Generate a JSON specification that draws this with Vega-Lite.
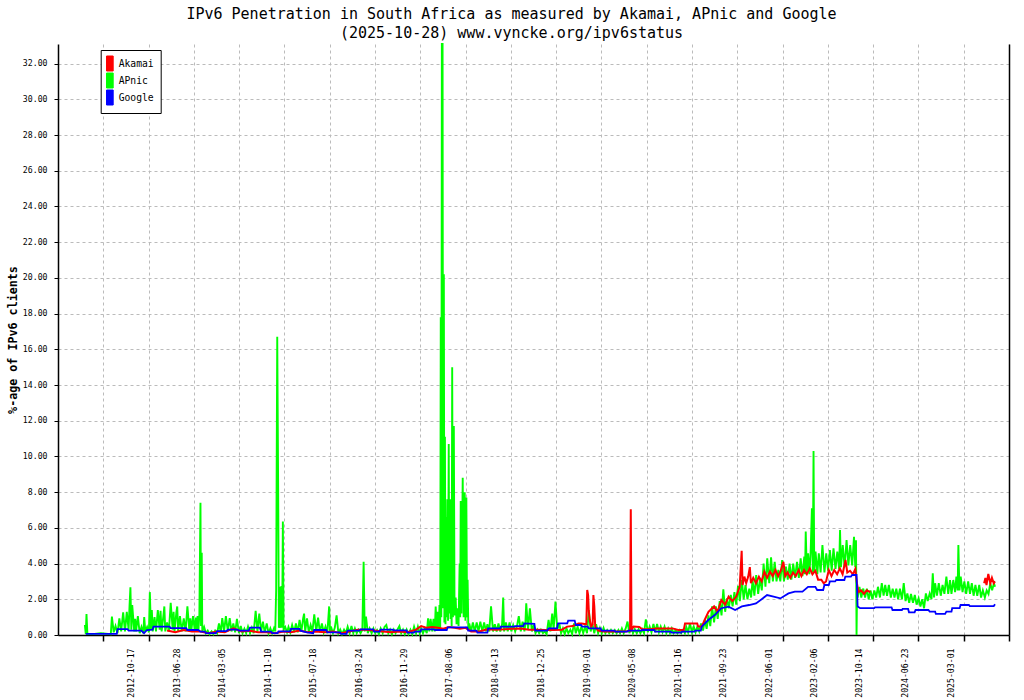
{
"$schema": "https://vega.github.io/schema/vega-lite/v6.json",
"width": 951, "height": 591,
"autosize": {"type": "none"},
"padding": {"left": 58, "top": 44, "right": 15, "bottom": 65},
"background": "white",
"title": {"text": ["IPv6 Penetration in South Africa as measured by Akamai, APnic and Google", "(2025-10-28) www.vyncke.org/ipv6status"], "frame": "group", "anchor": "middle", "dx": -22, "offset": -1, "font": "DejaVu Sans Mono", "fontSize": 15, "fontWeight": "normal", "lineHeight": 19, "color": "black"},
"datasets": {
"apnic": [
{"d":"2012-02-03","v":0.57},{"d":"2012-02-08","v":0.05},{"d":"2012-02-12","v":1.18},{"d":"2012-02-17","v":0.05},{"d":"2012-03-15","v":0.05},{"d":"2012-05-01","v":0.1},{"d":"2012-06-25","v":0.05},
{"d":"2012-07-01","v":1.03},{"d":"2012-07-11","v":0.15},{"d":"2012-07-21","v":0.5},{"d":"2012-08-01","v":0.1},{"d":"2012-08-11","v":0.93},{"d":"2012-08-21","v":0.2},{"d":"2012-09-01","v":1.27},{"d":"2012-09-11","v":0.2},{"d":"2012-09-21","v":1.3},{"d":"2012-10-01","v":0.3},{"d":"2012-10-06","v":1.6},{"d":"2012-10-11","v":2.67},{"d":"2012-10-16","v":0.3},{"d":"2012-10-21","v":1.68},{"d":"2012-11-01","v":0.2},{"d":"2012-11-06","v":0.9},{"d":"2012-11-11","v":0.2},{"d":"2012-11-21","v":1.06},{"d":"2012-12-01","v":0.1},{"d":"2012-12-11","v":0.45},{"d":"2012-12-21","v":0.1},{"d":"2012-12-26","v":1.0},
{"d":"2013-01-01","v":0.2},{"d":"2013-01-11","v":0.45},{"d":"2013-01-21","v":0.15},{"d":"2013-01-26","v":2.4},{"d":"2013-02-01","v":0.3},{"d":"2013-02-06","v":1.4},{"d":"2013-02-11","v":0.2},{"d":"2013-02-21","v":1.0},{"d":"2013-03-01","v":0.2},{"d":"2013-03-11","v":1.4},{"d":"2013-03-21","v":0.3},{"d":"2013-03-26","v":1.35},{"d":"2013-04-01","v":0.2},{"d":"2013-04-11","v":1.1},{"d":"2013-04-16","v":1.6},{"d":"2013-04-21","v":0.2},{"d":"2013-05-01","v":0.7},{"d":"2013-05-11","v":0.2},{"d":"2013-05-21","v":1.8},{"d":"2013-06-01","v":0.3},{"d":"2013-06-06","v":1.3},{"d":"2013-06-11","v":0.2},{"d":"2013-06-21","v":1.25},{"d":"2013-06-26","v":1.6},{"d":"2013-07-01","v":0.2},{"d":"2013-07-11","v":1.06},{"d":"2013-07-21","v":0.2},{"d":"2013-08-01","v":0.93},{"d":"2013-08-11","v":0.2},{"d":"2013-08-21","v":1.6},{"d":"2013-09-01","v":0.2},{"d":"2013-09-06","v":0.93},{"d":"2013-09-11","v":0.2},{"d":"2013-09-21","v":1.06},{"d":"2013-10-01","v":0.2},{"d":"2013-10-06","v":0.97},{"d":"2013-10-11","v":0.2},{"d":"2013-10-16","v":1.06},{"d":"2013-10-21","v":0.3},{"d":"2013-10-26","v":1.16},{"d":"2013-11-01","v":7.4},{"d":"2013-11-04","v":0.5},{"d":"2013-11-08","v":4.6},{"d":"2013-11-11","v":0.2},{"d":"2013-11-21","v":0.45},{"d":"2013-12-01","v":0.1},{"d":"2013-12-11","v":0.25},{"d":"2013-12-21","v":0.05},
{"d":"2014-01-01","v":0.2},{"d":"2014-01-11","v":0.05},{"d":"2014-01-21","v":0.25},{"d":"2014-02-01","v":0.1},{"d":"2014-02-11","v":0.65},{"d":"2014-02-21","v":0.15},{"d":"2014-03-01","v":0.95},{"d":"2014-03-11","v":0.2},{"d":"2014-03-21","v":1.06},{"d":"2014-04-01","v":0.2},{"d":"2014-04-11","v":0.95},{"d":"2014-04-21","v":0.2},{"d":"2014-05-01","v":0.65},{"d":"2014-05-11","v":0.15},{"d":"2014-05-21","v":0.9},{"d":"2014-06-01","v":0.1},{"d":"2014-06-11","v":0.5},{"d":"2014-06-21","v":0.1},{"d":"2014-07-01","v":0.35},{"d":"2014-07-11","v":0.1},{"d":"2014-07-21","v":0.47},{"d":"2014-08-01","v":0.1},{"d":"2014-08-11","v":0.41},{"d":"2014-08-21","v":0.1},{"d":"2014-09-01","v":1.36},{"d":"2014-09-11","v":0.2},{"d":"2014-09-21","v":1.2},{"d":"2014-10-01","v":0.2},{"d":"2014-10-11","v":0.75},{"d":"2014-10-21","v":0.15},{"d":"2014-11-01","v":0.65},{"d":"2014-11-11","v":0.1},{"d":"2014-11-21","v":0.38},{"d":"2014-12-01","v":0.1},{"d":"2014-12-11","v":0.38},{"d":"2014-12-18","v":0.2},{"d":"2014-12-23","v":2.5},{"d":"2014-12-29","v":16.7},
{"d":"2015-01-03","v":8.3},{"d":"2015-01-07","v":0.4},{"d":"2015-01-12","v":2.7},{"d":"2015-01-17","v":0.4},{"d":"2015-01-21","v":2.75},{"d":"2015-01-25","v":0.4},{"d":"2015-01-29","v":6.35},{"d":"2015-02-02","v":0.3},{"d":"2015-02-11","v":0.45},{"d":"2015-02-21","v":0.15},{"d":"2015-03-01","v":0.45},{"d":"2015-03-11","v":0.15},{"d":"2015-03-21","v":0.56},{"d":"2015-04-01","v":0.15},{"d":"2015-04-11","v":0.65},{"d":"2015-04-21","v":0.15},{"d":"2015-05-01","v":0.84},{"d":"2015-05-11","v":0.2},{"d":"2015-05-21","v":0.95},{"d":"2015-05-26","v":1.2},{"d":"2015-06-01","v":0.2},{"d":"2015-06-11","v":0.93},{"d":"2015-06-21","v":0.15},{"d":"2015-07-01","v":0.56},{"d":"2015-07-11","v":0.2},{"d":"2015-07-21","v":1.16},{"d":"2015-08-01","v":0.2},{"d":"2015-08-11","v":0.97},{"d":"2015-08-21","v":0.15},{"d":"2015-09-01","v":0.65},{"d":"2015-09-11","v":0.15},{"d":"2015-09-21","v":0.47},{"d":"2015-10-01","v":0.1},{"d":"2015-10-11","v":1.6},{"d":"2015-10-16","v":0.2},{"d":"2015-10-21","v":0.47},{"d":"2015-11-01","v":0.1},{"d":"2015-11-11","v":0.4},{"d":"2015-11-21","v":1.1},{"d":"2015-12-01","v":0.1},{"d":"2015-12-11","v":0.3},{"d":"2015-12-21","v":0.05},
{"d":"2016-01-01","v":0.3},{"d":"2016-01-11","v":0.1},{"d":"2016-01-21","v":0.47},{"d":"2016-02-01","v":0.1},{"d":"2016-02-11","v":0.5},{"d":"2016-02-21","v":0.1},{"d":"2016-03-01","v":0.37},{"d":"2016-03-11","v":0.1},{"d":"2016-03-21","v":0.3},{"d":"2016-04-01","v":0.1},{"d":"2016-04-11","v":0.3},{"d":"2016-04-18","v":4.1},{"d":"2016-04-24","v":0.2},{"d":"2016-05-01","v":1.03},{"d":"2016-05-11","v":0.1},{"d":"2016-05-21","v":0.37},{"d":"2016-06-01","v":0.1},{"d":"2016-06-11","v":0.37},{"d":"2016-06-21","v":0.1},{"d":"2016-07-01","v":0.28},{"d":"2016-07-11","v":0.05},{"d":"2016-07-21","v":0.37},{"d":"2016-08-01","v":0.1},{"d":"2016-08-11","v":0.45},{"d":"2016-08-21","v":0.56},{"d":"2016-09-01","v":0.1},{"d":"2016-09-11","v":0.3},{"d":"2016-09-21","v":0.05},{"d":"2016-10-01","v":0.3},{"d":"2016-10-11","v":0.1},{"d":"2016-10-21","v":0.3},{"d":"2016-11-01","v":0.5},{"d":"2016-11-11","v":0.1},{"d":"2016-11-21","v":0.3},{"d":"2016-12-01","v":0.05},{"d":"2016-12-11","v":0.3},{"d":"2016-12-21","v":0.05},
{"d":"2017-01-01","v":0.3},{"d":"2017-01-11","v":0.05},{"d":"2017-01-21","v":0.47},{"d":"2017-02-01","v":0.1},{"d":"2017-02-11","v":0.47},{"d":"2017-02-21","v":0.1},{"d":"2017-03-01","v":0.37},{"d":"2017-03-11","v":0.1},{"d":"2017-03-21","v":0.37},{"d":"2017-04-01","v":0.1},{"d":"2017-04-08","v":0.93},{"d":"2017-04-15","v":0.2},{"d":"2017-04-22","v":0.9},{"d":"2017-05-01","v":0.2},{"d":"2017-05-08","v":0.9},{"d":"2017-05-15","v":0.2},{"d":"2017-05-20","v":1.6},{"d":"2017-05-26","v":0.3},{"d":"2017-06-01","v":1.3},{"d":"2017-06-06","v":0.3},{"d":"2017-06-10","v":1.68},{"d":"2017-06-14","v":0.4},{"d":"2017-06-17","v":17.8},{"d":"2017-06-20","v":1.0},{"d":"2017-06-23","v":33.1},{"d":"2017-06-27","v":33.1},{"d":"2017-06-30","v":1.5},{"d":"2017-07-04","v":20.2},{"d":"2017-07-07","v":0.7},{"d":"2017-07-10","v":11.1},{"d":"2017-07-13","v":0.6},{"d":"2017-07-16","v":6.6},{"d":"2017-07-19","v":1.0},{"d":"2017-07-23","v":7.6},{"d":"2017-07-27","v":0.8},{"d":"2017-07-31","v":10.7},{"d":"2017-08-03","v":1.2},{"d":"2017-08-07","v":7.6},{"d":"2017-08-10","v":0.9},{"d":"2017-08-13","v":3.0},{"d":"2017-08-16","v":0.5},{"d":"2017-08-19","v":15.0},{"d":"2017-08-23","v":1.0},{"d":"2017-08-28","v":11.7},{"d":"2017-09-01","v":1.1},{"d":"2017-09-07","v":2.1},{"d":"2017-09-12","v":0.6},{"d":"2017-09-18","v":1.5},{"d":"2017-09-23","v":0.5},{"d":"2017-09-29","v":4.0},{"d":"2017-10-02","v":1.0},{"d":"2017-10-05","v":7.5},{"d":"2017-10-09","v":1.2},{"d":"2017-10-16","v":8.8},{"d":"2017-10-21","v":1.0},{"d":"2017-10-27","v":8.0},{"d":"2017-10-31","v":0.8},{"d":"2017-11-05","v":7.7},{"d":"2017-11-09","v":1.0},{"d":"2017-11-12","v":3.1},{"d":"2017-11-16","v":0.3},{"d":"2017-11-21","v":0.65},{"d":"2017-12-01","v":0.2},{"d":"2017-12-11","v":0.7},{"d":"2017-12-21","v":0.2},
{"d":"2018-01-01","v":0.7},{"d":"2018-01-11","v":0.2},{"d":"2018-01-21","v":0.75},{"d":"2018-02-01","v":0.2},{"d":"2018-02-11","v":0.7},{"d":"2018-02-21","v":0.2},{"d":"2018-03-01","v":0.6},{"d":"2018-03-11","v":0.2},{"d":"2018-03-21","v":1.6},{"d":"2018-04-01","v":0.2},{"d":"2018-04-11","v":0.6},{"d":"2018-04-21","v":0.2},{"d":"2018-05-01","v":0.65},{"d":"2018-05-11","v":0.2},{"d":"2018-05-21","v":0.6},{"d":"2018-05-27","v":2.1},{"d":"2018-06-01","v":0.2},{"d":"2018-06-11","v":0.7},{"d":"2018-06-21","v":0.2},{"d":"2018-07-01","v":0.7},{"d":"2018-07-11","v":0.2},{"d":"2018-07-21","v":0.56},{"d":"2018-08-01","v":0.2},{"d":"2018-08-11","v":0.5},{"d":"2018-08-21","v":1.06},{"d":"2018-09-01","v":0.2},{"d":"2018-09-11","v":0.75},{"d":"2018-09-21","v":0.2},{"d":"2018-09-26","v":0.6},{"d":"2018-10-01","v":1.77},{"d":"2018-10-11","v":0.3},{"d":"2018-10-21","v":1.5},{"d":"2018-11-01","v":0.2},{"d":"2018-11-11","v":0.56},{"d":"2018-11-21","v":0.1},{"d":"2018-12-01","v":0.3},{"d":"2018-12-11","v":0.1},{"d":"2018-12-21","v":0.3},
{"d":"2019-01-01","v":0.1},{"d":"2019-01-11","v":0.2},{"d":"2019-01-21","v":0.05},{"d":"2019-02-01","v":0.84},{"d":"2019-02-11","v":0.2},{"d":"2019-02-21","v":1.2},{"d":"2019-03-01","v":0.3},{"d":"2019-03-11","v":1.87},{"d":"2019-03-21","v":0.3},{"d":"2019-04-01","v":0.65},{"d":"2019-04-11","v":0.1},{"d":"2019-04-21","v":0.37},{"d":"2019-05-01","v":0.05},{"d":"2019-05-11","v":0.37},{"d":"2019-05-21","v":0.1},{"d":"2019-06-01","v":0.3},{"d":"2019-06-11","v":0.05},{"d":"2019-06-21","v":0.65},{"d":"2019-07-01","v":0.1},{"d":"2019-07-11","v":0.47},{"d":"2019-07-21","v":0.1},{"d":"2019-08-01","v":0.47},{"d":"2019-08-11","v":0.1},{"d":"2019-08-21","v":0.47},{"d":"2019-09-01","v":0.1},{"d":"2019-09-11","v":1.4},{"d":"2019-09-21","v":0.2},{"d":"2019-10-01","v":0.6},{"d":"2019-10-11","v":0.1},{"d":"2019-10-21","v":0.6},{"d":"2019-11-01","v":0.1},{"d":"2019-11-11","v":0.4},{"d":"2019-11-21","v":0.1},{"d":"2019-12-01","v":0.4},{"d":"2019-12-11","v":0.1},{"d":"2019-12-21","v":0.28},
{"d":"2020-01-01","v":0.1},{"d":"2020-01-11","v":0.28},{"d":"2020-01-21","v":0.1},{"d":"2020-02-01","v":0.28},{"d":"2020-02-11","v":0.1},{"d":"2020-02-21","v":0.28},{"d":"2020-03-01","v":0.1},{"d":"2020-03-11","v":0.37},{"d":"2020-03-21","v":0.1},{"d":"2020-04-01","v":0.37},{"d":"2020-04-11","v":0.75},{"d":"2020-04-21","v":0.1},{"d":"2020-05-01","v":0.47},{"d":"2020-05-11","v":0.1},{"d":"2020-05-21","v":0.32},{"d":"2020-06-01","v":0.1},{"d":"2020-06-11","v":0.32},{"d":"2020-06-21","v":0.1},{"d":"2020-07-01","v":0.32},{"d":"2020-07-11","v":0.1},{"d":"2020-07-21","v":0.88},{"d":"2020-08-01","v":0.15},{"d":"2020-08-11","v":0.47},{"d":"2020-08-21","v":0.15},{"d":"2020-09-01","v":0.62},{"d":"2020-09-11","v":0.15},{"d":"2020-09-21","v":0.62},{"d":"2020-10-01","v":0.15},{"d":"2020-10-11","v":0.47},{"d":"2020-10-21","v":0.15},{"d":"2020-11-01","v":0.47},{"d":"2020-11-11","v":0.1},{"d":"2020-11-21","v":0.37},{"d":"2020-12-01","v":0.1},{"d":"2020-12-11","v":0.37},{"d":"2020-12-21","v":0.1},
{"d":"2021-01-01","v":0.28},{"d":"2021-01-11","v":0.1},{"d":"2021-01-21","v":0.28},{"d":"2021-02-01","v":0.1},{"d":"2021-02-11","v":0.28},{"d":"2021-02-21","v":0.1},{"d":"2021-03-01","v":0.45},{"d":"2021-03-11","v":0.15},{"d":"2021-03-21","v":0.65},{"d":"2021-04-01","v":0.15},{"d":"2021-04-11","v":0.47},{"d":"2021-04-21","v":0.15},{"d":"2021-05-01","v":0.47},{"d":"2021-05-11","v":0.2},{"d":"2021-05-21","v":0.65},{"d":"2021-06-01","v":0.25},{"d":"2021-06-11","v":0.84},{"d":"2021-06-21","v":0.35},{"d":"2021-07-01","v":1.1},{"d":"2021-07-11","v":0.5},{"d":"2021-07-21","v":1.6},{"d":"2021-08-01","v":0.7},{"d":"2021-08-11","v":1.6},{"d":"2021-08-21","v":0.9},{"d":"2021-09-01","v":1.9},{"d":"2021-09-11","v":1.1},{"d":"2021-09-21","v":2.56},{"d":"2021-10-01","v":1.3},{"d":"2021-10-11","v":2.05},{"d":"2021-10-21","v":1.5},{"d":"2021-11-01","v":2.24},{"d":"2021-11-11","v":1.6},{"d":"2021-11-21","v":2.4},{"d":"2021-12-01","v":1.7},{"d":"2021-12-11","v":2.75},{"d":"2021-12-21","v":1.9},
{"d":"2022-01-01","v":3.08},{"d":"2022-01-11","v":2.0},{"d":"2022-01-21","v":2.8},{"d":"2022-02-01","v":2.0},{"d":"2022-02-11","v":2.6},{"d":"2022-02-21","v":2.1},{"d":"2022-03-01","v":3.08},{"d":"2022-03-11","v":2.2},{"d":"2022-03-21","v":3.36},{"d":"2022-04-01","v":2.3},{"d":"2022-04-11","v":3.17},{"d":"2022-04-21","v":2.5},{"d":"2022-05-01","v":4.0},{"d":"2022-05-11","v":2.7},{"d":"2022-05-21","v":4.3},{"d":"2022-06-01","v":2.9},{"d":"2022-06-11","v":4.35},{"d":"2022-06-21","v":3.0},{"d":"2022-07-01","v":4.1},{"d":"2022-07-11","v":3.0},{"d":"2022-07-21","v":3.64},{"d":"2022-08-01","v":3.0},{"d":"2022-08-11","v":4.2},{"d":"2022-08-21","v":3.0},{"d":"2022-09-01","v":3.83},{"d":"2022-09-11","v":3.1},{"d":"2022-09-21","v":4.0},{"d":"2022-10-01","v":3.1},{"d":"2022-10-11","v":4.0},{"d":"2022-10-21","v":3.2},{"d":"2022-11-01","v":4.1},{"d":"2022-11-11","v":3.2},{"d":"2022-11-21","v":4.3},{"d":"2022-12-01","v":3.3},{"d":"2022-12-11","v":4.39},{"d":"2022-12-15","v":3.4},{"d":"2022-12-19","v":5.79},{"d":"2022-12-25","v":3.5},
{"d":"2023-01-01","v":4.58},{"d":"2023-01-08","v":3.4},{"d":"2023-01-15","v":4.6},{"d":"2023-01-22","v":7.1},{"d":"2023-01-27","v":3.5},{"d":"2023-01-31","v":10.3},{"d":"2023-02-04","v":3.5},{"d":"2023-02-11","v":4.67},{"d":"2023-02-21","v":3.4},{"d":"2023-03-01","v":4.58},{"d":"2023-03-11","v":3.5},{"d":"2023-03-21","v":5.04},{"d":"2023-04-01","v":3.5},{"d":"2023-04-11","v":4.58},{"d":"2023-04-21","v":3.6},{"d":"2023-05-01","v":4.76},{"d":"2023-05-11","v":3.6},{"d":"2023-05-21","v":4.86},{"d":"2023-06-01","v":3.7},{"d":"2023-06-11","v":4.67},{"d":"2023-06-21","v":3.7},{"d":"2023-06-26","v":5.88},{"d":"2023-07-01","v":3.8},{"d":"2023-07-11","v":5.04},{"d":"2023-07-21","v":3.8},{"d":"2023-08-01","v":5.32},{"d":"2023-08-11","v":3.9},{"d":"2023-08-21","v":5.04},{"d":"2023-09-01","v":3.9},{"d":"2023-09-11","v":5.5},{"d":"2023-09-18","v":3.8},{"d":"2023-09-22","v":5.3},{"d":"2023-09-25","v":0},{"d":"2023-09-28","v":2.7},{"d":"2023-10-01","v":2.1},{"d":"2023-10-11","v":2.7},{"d":"2023-10-21","v":2.1},{"d":"2023-11-01","v":2.6},{"d":"2023-11-11","v":2.1},{"d":"2023-11-21","v":2.6},{"d":"2023-12-01","v":2.0},{"d":"2023-12-11","v":2.5},{"d":"2023-12-21","v":2.0},
{"d":"2024-01-01","v":2.5},{"d":"2024-01-11","v":2.1},{"d":"2024-01-21","v":2.7},{"d":"2024-02-01","v":2.1},{"d":"2024-02-11","v":2.9},{"d":"2024-02-21","v":2.2},{"d":"2024-03-01","v":2.8},{"d":"2024-03-11","v":2.2},{"d":"2024-03-21","v":2.8},{"d":"2024-04-01","v":2.1},{"d":"2024-04-11","v":2.6},{"d":"2024-04-21","v":2.1},{"d":"2024-05-01","v":2.6},{"d":"2024-05-11","v":2.0},{"d":"2024-05-21","v":2.6},{"d":"2024-06-01","v":2.0},{"d":"2024-06-11","v":2.9},{"d":"2024-06-21","v":1.9},{"d":"2024-07-01","v":2.33},{"d":"2024-07-11","v":1.8},{"d":"2024-07-21","v":2.3},{"d":"2024-08-01","v":1.8},{"d":"2024-08-11","v":2.24},{"d":"2024-08-21","v":1.7},{"d":"2024-09-01","v":2.05},{"d":"2024-09-11","v":1.6},{"d":"2024-09-21","v":2.0},{"d":"2024-10-01","v":1.5},{"d":"2024-10-11","v":2.33},{"d":"2024-10-21","v":1.9},{"d":"2024-11-01","v":2.33},{"d":"2024-11-11","v":2.0},{"d":"2024-11-18","v":3.45},{"d":"2024-11-25","v":2.1},{"d":"2024-12-01","v":2.9},{"d":"2024-12-11","v":2.2},{"d":"2024-12-21","v":2.9},
{"d":"2025-01-01","v":2.2},{"d":"2025-01-11","v":2.8},{"d":"2025-01-21","v":2.3},{"d":"2025-02-01","v":3.27},{"d":"2025-02-11","v":2.3},{"d":"2025-02-21","v":3.08},{"d":"2025-03-01","v":2.3},{"d":"2025-03-11","v":3.08},{"d":"2025-03-21","v":2.4},{"d":"2025-03-28","v":3.27},{"d":"2025-04-04","v":2.5},{"d":"2025-04-08","v":5.04},{"d":"2025-04-14","v":2.5},{"d":"2025-04-21","v":3.27},{"d":"2025-05-01","v":2.4},{"d":"2025-05-11","v":3.0},{"d":"2025-05-21","v":2.3},{"d":"2025-06-01","v":3.0},{"d":"2025-06-11","v":2.3},{"d":"2025-06-21","v":2.9},{"d":"2025-07-01","v":2.2},{"d":"2025-07-11","v":2.8},{"d":"2025-07-21","v":2.2},{"d":"2025-08-01","v":2.8},{"d":"2025-08-11","v":2.1},{"d":"2025-08-21","v":2.5},{"d":"2025-09-01","v":2.1},{"d":"2025-09-11","v":2.5},{"d":"2025-09-21","v":2.3},{"d":"2025-10-01","v":2.9},{"d":"2025-10-11","v":2.5},{"d":"2025-10-21","v":2.9},{"d":"2025-10-27","v":2.7}
],
"akamai": [
{"d":"2013-05-01","v":0.25,"s":1},{"d":"2013-06-15","v":0.15,"s":1},{"d":"2013-08-01","v":0.28,"s":1},{"d":"2013-09-15","v":0.2,"s":1},{"d":"2013-11-01","v":0.2,"s":1},{"d":"2013-12-15","v":0.1,"s":1},{"d":"2014-02-01","v":0.2,"s":1},{"d":"2014-03-15","v":0.15,"s":1},{"d":"2014-05-01","v":0.37,"s":1},{"d":"2014-06-15","v":0.2,"s":1},{"d":"2014-08-01","v":0.24,"s":1},{"d":"2014-09-15","v":0.15,"s":1},{"d":"2014-11-01","v":0.15,"s":1},{"d":"2014-12-15","v":0.1,"s":1},{"d":"2015-02-01","v":0.2,"s":1},{"d":"2015-03-15","v":0.15,"s":1},{"d":"2015-05-01","v":0.25,"s":1},{"d":"2015-06-15","v":0.15,"s":1},{"d":"2015-08-01","v":0.2,"s":1},{"d":"2015-09-15","v":0.15,"s":1},{"d":"2015-11-01","v":0.2,"s":1},{"d":"2015-12-15","v":0.1,"s":1},{"d":"2016-02-01","v":0.2,"s":1},{"d":"2016-03-15","v":0.3,"s":1},{"d":"2016-05-01","v":0.3,"s":1},{"d":"2016-06-15","v":0.25,"s":1},{"d":"2016-08-01","v":0.2,"s":1},{"d":"2016-09-15","v":0.15,"s":1},{"d":"2016-11-01","v":0.2,"s":1},{"d":"2016-12-15","v":0.15,"s":1},{"d":"2017-02-01","v":0.3,"s":1},{"d":"2017-03-01","v":0.5,"s":1},{"d":"2017-04-01","v":0.4,"s":1},{"d":"2017-05-01","v":0.45,"s":1},{"d":"2017-06-01","v":0.4,"s":1},{"d":"2017-07-01","v":0.35,"s":1},{"d":"2017-08-01","v":0.45,"s":1},{"d":"2017-09-01","v":0.4,"s":1},{"d":"2017-10-01","v":0.35,"s":1},{"d":"2017-11-01","v":0.4,"s":1},{"d":"2017-12-01","v":0.2,"s":1},{"d":"2018-01-15","v":0.2,"s":1},{"d":"2018-03-01","v":0.32,"s":1},{"d":"2018-04-15","v":0.3,"s":1},{"d":"2018-06-01","v":0.32,"s":1},{"d":"2018-07-15","v":0.35,"s":1},{"d":"2018-09-01","v":0.37,"s":1},{"d":"2018-10-15","v":0.3,"s":1},{"d":"2018-12-01","v":0.3,"s":1},{"d":"2019-01-15","v":0.28,"s":1},{"d":"2019-03-01","v":0.28,"s":1},{"d":"2019-04-15","v":0.3,"s":1},{"d":"2019-05-15","v":0.47,"s":1},{"d":"2019-06-15","v":0.5,"s":1},{"d":"2019-07-15","v":0.65,"s":1},{"d":"2019-08-01","v":0.65,"s":1},{"d":"2019-08-28","v":0.6,"s":1},{"d":"2019-09-02","v":2.52,"s":1},{"d":"2019-09-07","v":2.24,"s":1},{"d":"2019-09-11","v":1.3,"s":1},{"d":"2019-09-16","v":0.84,"s":1},{"d":"2019-09-24","v":0.47,"s":1},{"d":"2019-10-02","v":0.6,"s":1},{"d":"2019-10-06","v":2.24,"s":1},{"d":"2019-10-11","v":1.6,"s":1},{"d":"2019-10-16","v":0.47,"s":1},{"d":"2019-11-01","v":0.25,"s":1},{"d":"2019-12-01","v":0.2,"s":1},{"d":"2020-01-01","v":0.2,"s":1},{"d":"2020-02-01","v":0.2,"s":1},{"d":"2020-03-01","v":0.2,"s":1},{"d":"2020-04-01","v":0.2,"s":1},{"d":"2020-04-25","v":0.25,"s":1},{"d":"2020-04-29","v":7.04,"s":1},{"d":"2020-05-03","v":0.3,"s":1},{"d":"2020-05-15","v":0.47,"s":1},{"d":"2020-06-15","v":0.45,"s":1},{"d":"2020-07-01","v":0.32,"s":1},{"d":"2020-08-15","v":0.32,"s":1},{"d":"2020-09-15","v":0.37,"s":1},{"d":"2020-11-01","v":0.37,"s":1},{"d":"2020-12-15","v":0.37,"s":1},{"d":"2021-01-15","v":0.28,"s":1},{"d":"2021-02-15","v":0.28,"s":1},{"d":"2021-02-22","v":0.65,"s":1},{"d":"2021-04-30","v":0.65,"s":1},{"d":"2021-05-05","v":0.47,"s":1},{"d":"2021-05-25","v":0.47,"s":1},{"d":"2021-06-10","v":0.84,"s":1},{"d":"2021-07-01","v":1.3,"s":1},{"d":"2021-08-01","v":1.6,"s":1},{"d":"2021-08-20","v":1.3,"s":1},{"d":"2021-09-10","v":1.96,"s":1},{"d":"2021-10-01","v":1.7,"s":1},{"d":"2021-10-20","v":2.15,"s":1},{"d":"2021-11-10","v":1.9,"s":1},{"d":"2021-12-01","v":2.15,"s":1},{"d":"2021-12-20","v":2.7,"s":1},{"d":"2021-12-31","v":4.72,"s":1},{"d":"2022-01-05","v":2.8,"s":1},{"d":"2022-01-15","v":3.27,"s":1},{"d":"2022-01-25","v":2.9,"s":1},{"d":"2022-02-05","v":3.27,"s":1},{"d":"2022-02-14","v":3.8,"s":1},{"d":"2022-02-20","v":2.9,"s":1},{"d":"2022-03-05","v":3.2,"s":1},{"d":"2022-03-20","v":2.9,"s":1},{"d":"2022-04-05","v":3.27,"s":1},{"d":"2022-04-20","v":3.0,"s":1},{"d":"2022-05-05","v":3.55,"s":1},{"d":"2022-05-20","v":3.2,"s":1},{"d":"2022-06-05","v":3.55,"s":1},{"d":"2022-06-20","v":3.3,"s":1},{"d":"2022-07-05","v":3.64,"s":1},{"d":"2022-07-20","v":3.3,"s":1},{"d":"2022-08-05","v":3.64,"s":1},{"d":"2022-08-18","v":4.1,"s":1},{"d":"2022-08-28","v":3.3,"s":1},{"d":"2022-09-10","v":3.5,"s":1},{"d":"2022-09-25","v":3.2,"s":1},{"d":"2022-10-10","v":3.5,"s":1},{"d":"2022-10-25","v":3.3,"s":1},{"d":"2022-11-10","v":3.64,"s":1},{"d":"2022-11-25","v":3.3,"s":1},{"d":"2022-12-10","v":3.64,"s":1},{"d":"2022-12-25","v":3.4,"s":1},{"d":"2023-01-10","v":3.73,"s":1},{"d":"2023-01-25","v":3.4,"s":1},{"d":"2023-02-10","v":3.6,"s":1},{"d":"2023-02-25","v":3.1,"s":1},{"d":"2023-03-15","v":3.1,"s":1},{"d":"2023-03-28","v":2.9,"s":1},{"d":"2023-04-10","v":3.0,"s":1},{"d":"2023-04-25","v":3.64,"s":1},{"d":"2023-05-10","v":3.3,"s":1},{"d":"2023-05-25","v":3.64,"s":1},{"d":"2023-06-10","v":3.4,"s":1},{"d":"2023-06-25","v":3.73,"s":1},{"d":"2023-07-10","v":3.4,"s":1},{"d":"2023-07-26","v":4.2,"s":1},{"d":"2023-08-05","v":3.5,"s":1},{"d":"2023-08-20","v":3.6,"s":1},{"d":"2023-09-05","v":3.4,"s":1},{"d":"2023-09-18","v":3.7,"s":1},{"d":"2023-09-27","v":2.9,"s":1},{"d":"2023-10-05","v":2.4,"s":1},{"d":"2023-10-20","v":2.5,"s":1},{"d":"2023-11-05","v":2.3,"s":1},{"d":"2023-11-20","v":2.5,"s":1},{"d":"2023-12-10","v":2.4,"s":1},
{"d":"2025-08-28","v":2.9,"s":2},{"d":"2025-09-04","v":3.2,"s":2},{"d":"2025-09-10","v":2.8,"s":2},{"d":"2025-09-20","v":3.42,"s":2},{"d":"2025-10-01","v":2.9,"s":2},{"d":"2025-10-10","v":3.2,"s":2},{"d":"2025-10-20","v":2.9,"s":2},{"d":"2025-10-27","v":3.0,"s":2}
],
"google": [
{"d":"2012-02-08","v":0.06},{"d":"2012-07-28","v":0.06},{"d":"2012-08-01","v":0.33},{"d":"2012-09-25","v":0.33},{"d":"2012-10-01","v":0.25},{"d":"2012-12-10","v":0.25},{"d":"2012-12-25","v":0.1},{"d":"2013-01-10","v":0.28},{"d":"2013-02-10","v":0.3},{"d":"2013-02-15","v":0.47},{"d":"2013-05-15","v":0.47},{"d":"2013-05-20","v":0.38},{"d":"2013-08-15","v":0.38},{"d":"2013-08-20","v":0.28},{"d":"2013-10-20","v":0.28},{"d":"2013-11-01","v":0.19},{"d":"2013-11-25","v":0.19},{"d":"2013-12-01","v":0.1},{"d":"2014-01-25","v":0.1},{"d":"2014-02-01","v":0.22},{"d":"2014-03-25","v":0.22},{"d":"2014-04-01","v":0.3},{"d":"2014-05-25","v":0.3},{"d":"2014-06-01","v":0.24},{"d":"2014-07-25","v":0.24},{"d":"2014-08-01","v":0.41},{"d":"2014-09-25","v":0.41},{"d":"2014-10-01","v":0.19},{"d":"2014-11-25","v":0.19},{"d":"2014-12-01","v":0.1},{"d":"2014-12-31","v":0.1},{"d":"2015-01-05","v":0.2},{"d":"2015-03-10","v":0.2},{"d":"2015-03-15","v":0.34},{"d":"2015-05-01","v":0.34},{"d":"2015-05-05","v":0.24},{"d":"2015-06-10","v":0.15},{"d":"2015-07-15","v":0.1},{"d":"2015-07-20","v":0.28},{"d":"2015-09-25","v":0.28},{"d":"2015-10-01","v":0.15},{"d":"2015-12-10","v":0.15},{"d":"2015-12-15","v":0.06},{"d":"2016-01-15","v":0.06},{"d":"2016-01-20","v":0.24},{"d":"2016-03-25","v":0.24},{"d":"2016-04-01","v":0.32},{"d":"2016-06-10","v":0.32},{"d":"2016-06-15","v":0.19},{"d":"2016-07-15","v":0.19},{"d":"2016-07-20","v":0.3},{"d":"2016-09-25","v":0.3},{"d":"2016-10-01","v":0.26},{"d":"2016-12-10","v":0.26},{"d":"2016-12-15","v":0.13},{"d":"2017-01-20","v":0.13},{"d":"2017-01-25","v":0.19},{"d":"2017-02-25","v":0.19},{"d":"2017-03-01","v":0.32},{"d":"2017-05-10","v":0.32},{"d":"2017-05-15","v":0.28},{"d":"2017-07-20","v":0.28},{"d":"2017-07-25","v":0.43},{"d":"2017-11-10","v":0.43},{"d":"2017-11-15","v":0.24},{"d":"2017-12-31","v":0.24},{"d":"2018-01-05","v":0.13},{"d":"2018-03-01","v":0.13},{"d":"2018-03-05","v":0.37},{"d":"2018-05-10","v":0.37},{"d":"2018-05-15","v":0.47},{"d":"2018-07-25","v":0.47},{"d":"2018-08-01","v":0.5},{"d":"2018-09-15","v":0.5},{"d":"2018-09-20","v":0.65},{"d":"2018-11-15","v":0.62},{"d":"2018-11-20","v":0.24},{"d":"2019-01-25","v":0.24},{"d":"2019-02-01","v":0.37},{"d":"2019-03-20","v":0.37},{"d":"2019-03-25","v":0.65},{"d":"2019-05-15","v":0.65},{"d":"2019-05-20","v":0.8},{"d":"2019-06-25","v":0.8},{"d":"2019-07-01","v":0.56},{"d":"2019-07-30","v":0.56},{"d":"2019-08-05","v":0.47},{"d":"2019-09-05","v":0.47},{"d":"2019-09-10","v":0.37},{"d":"2019-11-15","v":0.37},{"d":"2019-11-20","v":0.24},{"d":"2020-01-30","v":0.24},{"d":"2020-02-05","v":0.19},{"d":"2020-04-10","v":0.19},{"d":"2020-04-15","v":0.24},{"d":"2020-06-25","v":0.24},{"d":"2020-07-01","v":0.28},{"d":"2020-09-05","v":0.28},{"d":"2020-09-10","v":0.19},{"d":"2020-12-05","v":0.19},{"d":"2020-12-10","v":0.13},{"d":"2021-02-01","v":0.13},{"d":"2021-02-05","v":0.19},{"d":"2021-04-15","v":0.19},{"d":"2021-04-20","v":0.24},{"d":"2021-05-20","v":0.24},{"d":"2021-05-25","v":0.47},{"d":"2021-06-30","v":0.84},{"d":"2021-08-05","v":1.12},{"d":"2021-09-10","v":1.5},{"d":"2021-10-20","v":1.59},{"d":"2021-11-25","v":1.4},{"d":"2022-01-01","v":1.6},{"d":"2022-02-10","v":1.68},{"d":"2022-03-20","v":1.77},{"d":"2022-04-20","v":2.0},{"d":"2022-05-20","v":2.24},{"d":"2022-06-25","v":2.15},{"d":"2022-08-01","v":2.05},{"d":"2022-09-15","v":2.33},{"d":"2022-10-20","v":2.43},{"d":"2022-12-01","v":2.43},{"d":"2023-01-01","v":2.7},{"d":"2023-02-10","v":2.7},{"d":"2023-02-20","v":2.52},{"d":"2023-03-25","v":2.52},{"d":"2023-04-01","v":2.8},{"d":"2023-04-25","v":2.8},{"d":"2023-05-01","v":3.0},{"d":"2023-05-30","v":3.0},{"d":"2023-06-05","v":3.08},{"d":"2023-07-20","v":3.08},{"d":"2023-07-25","v":3.27},{"d":"2023-08-25","v":3.27},{"d":"2023-09-01","v":3.36},{"d":"2023-09-25","v":3.36},{"d":"2023-10-01","v":1.6},{"d":"2023-10-15","v":1.5},{"d":"2023-12-31","v":1.5},{"d":"2024-01-05","v":1.55},{"d":"2024-04-05","v":1.55},{"d":"2024-04-10","v":1.4},{"d":"2024-06-01","v":1.4},{"d":"2024-06-05","v":1.46},{"d":"2024-07-05","v":1.46},{"d":"2024-07-10","v":1.27},{"d":"2024-08-10","v":1.27},{"d":"2024-08-15","v":1.4},{"d":"2024-10-25","v":1.4},{"d":"2024-11-01","v":1.31},{"d":"2024-12-01","v":1.31},{"d":"2024-12-05","v":1.18},{"d":"2025-01-25","v":1.18},{"d":"2025-02-01","v":1.31},{"d":"2025-03-01","v":1.31},{"d":"2025-03-05","v":1.5},{"d":"2025-04-15","v":1.5},{"d":"2025-04-20","v":1.68},{"d":"2025-06-05","v":1.68},{"d":"2025-06-10","v":1.62},{"d":"2025-10-20","v":1.62},{"d":"2025-10-27","v":1.72}
]
},
"layer": [
{
"encoding": {
  "x": {"field": "d", "type": "temporal", "scale": {"type": "utc", "domain": [{"year":2011,"month":9,"date":8,"utc":true},{"year":2026,"month":1,"date":12,"utc":true}], "nice": false},
   "axis": {"orient": "bottom", "title": null, "format": "%Y-%m-%d", "labelAngle": 270, "ticks": false, "grid": false, "domain": true, "domainWidth": 1.5, "labelPadding": 13, "labelFlush": false, "labelOverlap": false,
    "values": [{"year":2012,"month":10,"date":17,"utc":true},{"year":2013,"month":6,"date":28,"utc":true},{"year":2014,"month":3,"date":5,"utc":true},{"year":2014,"month":11,"date":10,"utc":true},{"year":2015,"month":7,"date":18,"utc":true},{"year":2016,"month":3,"date":24,"utc":true},{"year":2016,"month":11,"date":29,"utc":true},{"year":2017,"month":8,"date":6,"utc":true},{"year":2018,"month":4,"date":13,"utc":true},{"year":2018,"month":12,"date":25,"utc":true},{"year":2019,"month":9,"date":1,"utc":true},{"year":2020,"month":5,"date":8,"utc":true},{"year":2021,"month":1,"date":16,"utc":true},{"year":2021,"month":9,"date":23,"utc":true},{"year":2022,"month":6,"date":1,"utc":true},{"year":2023,"month":2,"date":6,"utc":true},{"year":2023,"month":10,"date":14,"utc":true},{"year":2024,"month":6,"date":23,"utc":true},{"year":2025,"month":3,"date":1,"utc":true}]}},
  "y": {"field": "v", "type": "quantitative", "scale": {"domain": [0, 33.1], "nice": false, "zero": true},
   "axis": {"orient": "left", "title": "%-age of IPv6 clients", "titleFont": "DejaVu Sans Mono", "titleFontSize": 11.7, "titleFontWeight": "bold", "titleColor": "black", "titlePadding": 4, "format": ".2f", "values": [0,2,4,6,8,10,12,14,16,18,20,22,24,26,28,30,32], "tickSize": 4, "labelPadding": 7, "grid": true, "domainWidth": 1.5, "labelFlush": false, "labelOverlap": false, "labelSeparation": 0, "labelBound": false}}
},
"layer": [
{"data": {"name": "apnic"}, "mark": {"type": "line", "strokeWidth": 1.9, "interpolate": "linear"},
 "encoding": {
  "color": {"datum": "APnic", "type": "nominal", "scale": {"domain": ["Akamai", "APnic", "Google"], "range": ["#ff0000", "#00ff00", "#0000ff"]},
   "legend": {"title": null, "orient": "none", "legendX": 42.7, "legendY": 6,
    "encode": {"symbols": {"update": {"fill": {"scale": "color", "field": "value"}, "fillOpacity": {"value": 1}, "stroke": {"value": "black"}, "strokeWidth": {"value": 1}, "strokeJoin": {"value": "bevel"}, "opacity": {"value": 1}}}}}}
 }},
{"data": {"name": "akamai"}, "mark": {"type": "line", "strokeWidth": 2, "interpolate": "linear"},
 "encoding": {
  "detail": {"field": "s", "type": "nominal"},
  "color": {"datum": "Akamai", "type": "nominal"}
 }},
{"data": {"name": "google"}, "mark": {"type": "line", "strokeWidth": 1.8, "interpolate": "linear"},
 "encoding": {
  "color": {"datum": "Google", "type": "nominal"}
 }}
]
},
{"data": {"name": "google"}, "mark": {"type": "point", "opacity": 0},
 "encoding": {
  "x": {"field": "d", "type": "temporal",
   "axis": {"orient": "bottom", "title": null, "labels": false, "ticks": true, "tickSize": 6, "tickWidth": 1.5, "domain": false, "grid": true,
    "values": [{"year":2012,"month":5,"date":14,"utc":true},{"year":2013,"month":1,"date":19,"utc":true},{"year":2013,"month":9,"date":25,"utc":true},{"year":2014,"month":6,"date":2,"utc":true},{"year":2015,"month":2,"date":7,"utc":true},{"year":2015,"month":10,"date":14,"utc":true},{"year":2016,"month":6,"date":20,"utc":true},{"year":2017,"month":2,"date":24,"utc":true},{"year":2017,"month":11,"date":1,"utc":true},{"year":2018,"month":7,"date":8,"utc":true},{"year":2019,"month":3,"date":15,"utc":true},{"year":2019,"month":11,"date":19,"utc":true},{"year":2020,"month":7,"date":26,"utc":true},{"year":2021,"month":4,"date":1,"utc":true},{"year":2021,"month":12,"date":7,"utc":true},{"year":2022,"month":8,"date":14,"utc":true},{"year":2023,"month":4,"date":20,"utc":true},{"year":2023,"month":12,"date":26,"utc":true},{"year":2024,"month":8,"date":31,"utc":true},{"year":2025,"month":5,"date":8,"utc":true},{"year":2026,"month":1,"date":12,"utc":true}]}},
  "y": {"field": "v", "type": "quantitative",
   "axis": {"orient": "right", "title": null, "labels": false, "ticks": false, "grid": false, "domain": true, "domainWidth": 1.5}}
 }}
],
"resolve": {"axis": {"x": "independent", "y": "independent"}},
"config": {
 "view": {"stroke": null},
 "axis": {"labelFont": "DejaVu Sans Mono", "labelFontSize": 8.2, "labelColor": "black", "domainColor": "black", "tickColor": "black", "gridColor": "#bbbbbb", "gridDash": [3, 3], "gridWidth": 1, "gridOpacity": 1},
 "legend": {"labelFont": "DejaVu Sans Mono", "labelFontSize": 9.7, "labelColor": "black", "padding": 7, "strokeColor": "black", "fillColor": "white", "rowPadding": 0, "labelOffset": -2, "symbolSize": 144, "symbolType": "M-1.28,-1.25L-0.17,-1.25L-0.17,1.25L-1.28,1.25Z", "symbolStrokeWidth": 1, "symbolStrokeColor": "black", "symbolOpacity": 1, "cornerRadius": 0}
}
}
